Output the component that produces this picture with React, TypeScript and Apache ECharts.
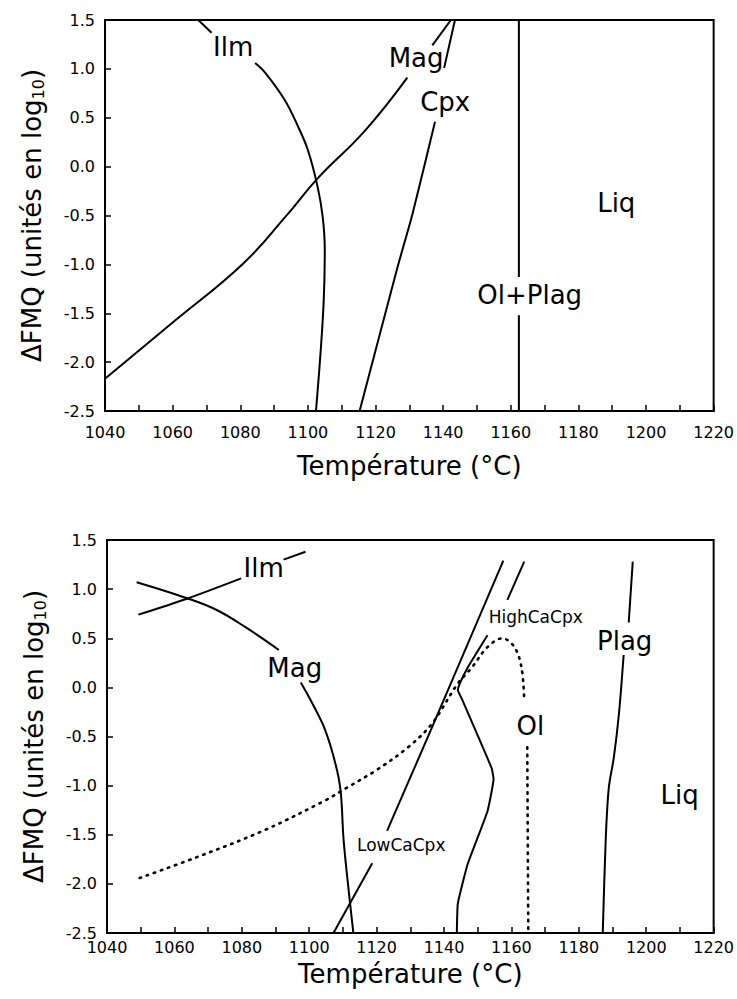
import React, { useEffect, useRef } from "react";
import * as echarts from "echarts";

// ---------- data (°C, ΔFMQ) ; null = gap in the curve (label) ----------
type P = [number, number] | null;

// Top panel
const topIlm: P[] = [[1067.6, 1.5], [1071.5, 1.37], null, [1084.4, 1.06], [1087.4, 0.96], [1093.2, 0.68], [1097.1, 0.41], [1100, 0.17], [1102.9, -0.21], [1104.4, -0.52], [1105, -0.85], [1104.7, -1.36], [1103.8, -1.88], [1102.4, -2.5]];
const topMag: P[] = [[1040, -2.17], [1060.9, -1.57], [1080.9, -0.99], [1093.2, -0.52], [1102.9, -0.12], [1116.7, 0.36], [1129.4, 0.91], null, [1136.8, 1.24], [1142.3, 1.5]];
const topCpx: P[] = [[1115.3, -2.5], [1126.5, -1.03], [1130.9, -0.49], [1137.6, 0.46], null, [1140.3, 1.01], [1143.5, 1.5]];
const topOlPlag: P[] = [[1162.4, -2.5], [1162.4, -1.52], null, [1162.4, -1.13], [1162.4, 1.5]];
const topLabels: [number, number, string, number][] = [
  [1077.9, 1.22, "Ilm", 26],
  [1132, 1.11, "Mag", 26],
  [1140.6, 0.66, "Cpx", 26],
  [1165.6, -1.31, "Ol+Plag", 26],
  [1191.2, -0.37, "Liq", 26],
];

// Bottom panel
const botIlm: P[] = [[1049.3, 0.74], [1063.5, 0.9], [1079.8, 1.11], null, [1092.4, 1.3], [1098.9, 1.38]];
const botMag: P[] = [[1048.8, 1.07], [1063.5, 0.91], [1072.4, 0.79], [1081.2, 0.61], [1091, 0.38], null, [1097.5, 0.05], [1101.5, -0.2], [1104.8, -0.44], [1107.8, -0.78], [1109.3, -1.05], [1110.2, -1.55], [1111.5, -2.0], [1113.1, -2.5]];
const botLowCaCpx: P[] = [[1107.2, -2.5], [1118.7, -1.79], null, [1123.1, -1.46], [1136.4, -0.41], [1157.6, 1.29]];
const botHighCaCpx: P[] = [[1163.8, 1.28], [1158.8, 0.89], null, [1152.9, 0.53], [1147, 0.2], [1144.7, 0.04], [1144.1, -0.03], [1145.2, -0.11], [1154.1, -0.82], [1154.7, -0.93], [1152.9, -1.26], [1147, -1.8], [1144.1, -2.2], [1143.8, -2.5]];
const botOl: P[] = [[1049.7, -1.94], [1066.5, -1.73], [1086.3, -1.46], [1104.8, -1.15], [1110.7, -1.03], [1119.6, -0.85], [1129.3, -0.61], [1136.4, -0.37], [1144.1, 0.04], [1148.2, 0.2], [1152.9, 0.41], [1157.3, 0.5], [1160.9, 0.41], [1163, 0.2], [1163.8, -0.13], null, [1164.7, -0.61], [1165, -2.5]];
const botPlag: P[] = [[1196, 1.28], [1194.8, 0.66], null, [1193.3, 0.33], [1191.9, -0.27], [1190.4, -0.71], [1188.9, -1.02], [1188, -1.53], [1187.1, -2.5]];
const botLabels: [number, number, string, number][] = [
  [1086.5, 1.22, "Ilm", 26],
  [1095.7, 0.2, "Mag", 26],
  [1127.3, -1.6, "LowCaCpx", 17],
  [1167.2, 0.72, "HighCaCpx", 17],
  [1165.6, -0.39, "Ol", 26],
  [1193.6, 0.47, "Plag", 26],
  [1209.9, -1.1, "Liq", 26],
];

const X_MIN = 1040, X_MAX = 1220, X_STEP = 10, X_LABEL_STEP = 20;
const Y_MIN = -2.5, Y_MAX = 1.5, Y_STEP = 0.5;
const X_TITLE = "Température (°C)";
const Y_TITLE = "ΔFMQ (unités en log{sub|10})";

const FONT = "DejaVu Sans";
const INK = "#000";

function toData(pts: P[]) {
  return pts.map((p) => (p ? p : ["-", "-"]));
}

function xAxis(gridIndex: number, nameGap: number, labelMargin: number) {
  return {
    type: "value",
    gridIndex,
    min: X_MIN,
    max: X_MAX,
    interval: X_STEP,
    name: X_TITLE,
    nameLocation: "middle",
    nameGap,
    nameTextStyle: { fontFamily: FONT, fontSize: 26, color: INK },
    axisLine: { show: true, onZero: false, lineStyle: { color: INK, width: 2 } },
    axisTick: { show: true, inside: true, length: 6, lineStyle: { color: INK, width: 1.5 } },
    axisLabel: {
      margin: labelMargin,
      fontFamily: FONT,
      fontSize: 16,
      color: INK,
      formatter: (v: number) => ((Math.round(v) - X_MIN) % X_LABEL_STEP === 0 ? String(Math.round(v)) : ""),
    },
    splitLine: { show: false },
  };
}

function yAxis(gridIndex: number) {
  return {
    type: "value",
    gridIndex,
    min: Y_MIN,
    max: Y_MAX,
    interval: Y_STEP,
    name: Y_TITLE,
    nameLocation: "middle",
    nameRotate: 90,
    nameGap: 59,
    nameTextStyle: {
      fontFamily: FONT,
      fontSize: 26,
      color: INK,
      rich: {
        sub: { fontFamily: FONT, fontSize: 16, color: INK, verticalAlign: "bottom", padding: [13, 0, 0, 0] },
      },
    },
    axisLine: { show: true, onZero: false, lineStyle: { color: INK, width: 2 } },
    axisTick: { show: true, inside: true, length: 6, lineStyle: { color: INK, width: 1.5 } },
    axisLabel: {
      margin: 10,
      fontFamily: FONT,
      fontSize: 16,
      color: INK,
      formatter: (v: number) => (Math.abs(v) < 1e-9 ? "0.0" : v.toFixed(1)),
    },
    splitLine: { show: false },
  };
}

function curve(idx: number, pts: P[], smooth: number, dotted = false) {
  return {
    type: "line",
    xAxisIndex: idx,
    yAxisIndex: idx,
    data: toData(pts),
    showSymbol: false,
    symbol: "none",
    connectNulls: false,
    smooth,
    silent: true,
    clip: true,
    lineStyle: dotted
      ? { color: INK, width: 2.6, type: [1.5, 6], cap: "round" }
      : { color: INK, width: 2 },
    z: 3,
  };
}

function labels(idx: number, items: [number, number, string, number][]) {
  return {
    type: "scatter",
    xAxisIndex: idx,
    yAxisIndex: idx,
    symbolSize: 0,
    silent: true,
    data: items.map(([x, y, name, size]) => ({
      value: [x, y],
      name,
      label: {
        show: true,
        position: "inside",
        formatter: "{b}",
        fontFamily: FONT,
        fontSize: size,
        color: INK,
        opacity: 1,
        textBorderWidth: 0,
      },
    })),
    z: 5,
  };
}

export default function App() {
  const ref = useRef<HTMLDivElement>(null);
  useEffect(() => {
    if (!ref.current) return;
    const chart = echarts.init(ref.current, undefined, { renderer: "svg" });
    chart.setOption({
      animation: false,
      backgroundColor: "#fff",
      grid: [
        { left: 105, right: 19, top: 20, height: 391, show: true, borderColor: INK, borderWidth: 2, backgroundColor: "transparent" },
        { left: 107, right: 17, top: 540, height: 393, show: true, borderColor: INK, borderWidth: 2, backgroundColor: "transparent" },
      ],
      xAxis: [xAxis(0, 42, 13), xAxis(1, 28, 6)],
      yAxis: [yAxis(0), yAxis(1)],
      series: [
        curve(0, topIlm, 0.35),
        curve(0, topMag, 0.45),
        curve(0, topCpx, 0.2),
        curve(0, topOlPlag, 0),
        labels(0, topLabels),
        curve(1, botIlm, 0.3),
        curve(1, botMag, 0.4),
        curve(1, botLowCaCpx, 0.2),
        curve(1, botHighCaCpx, 0.12),
        curve(1, botOl, 0.35, true),
        curve(1, botPlag, 0.3),
        labels(1, botLabels),
      ],
    });
    return () => chart.dispose();
  }, []);
  return (
    <div
      ref={ref}
      style={{ position: "fixed", left: 0, top: 0, width: 737, height: 999, background: "#fff" }}
    />
  );
}
